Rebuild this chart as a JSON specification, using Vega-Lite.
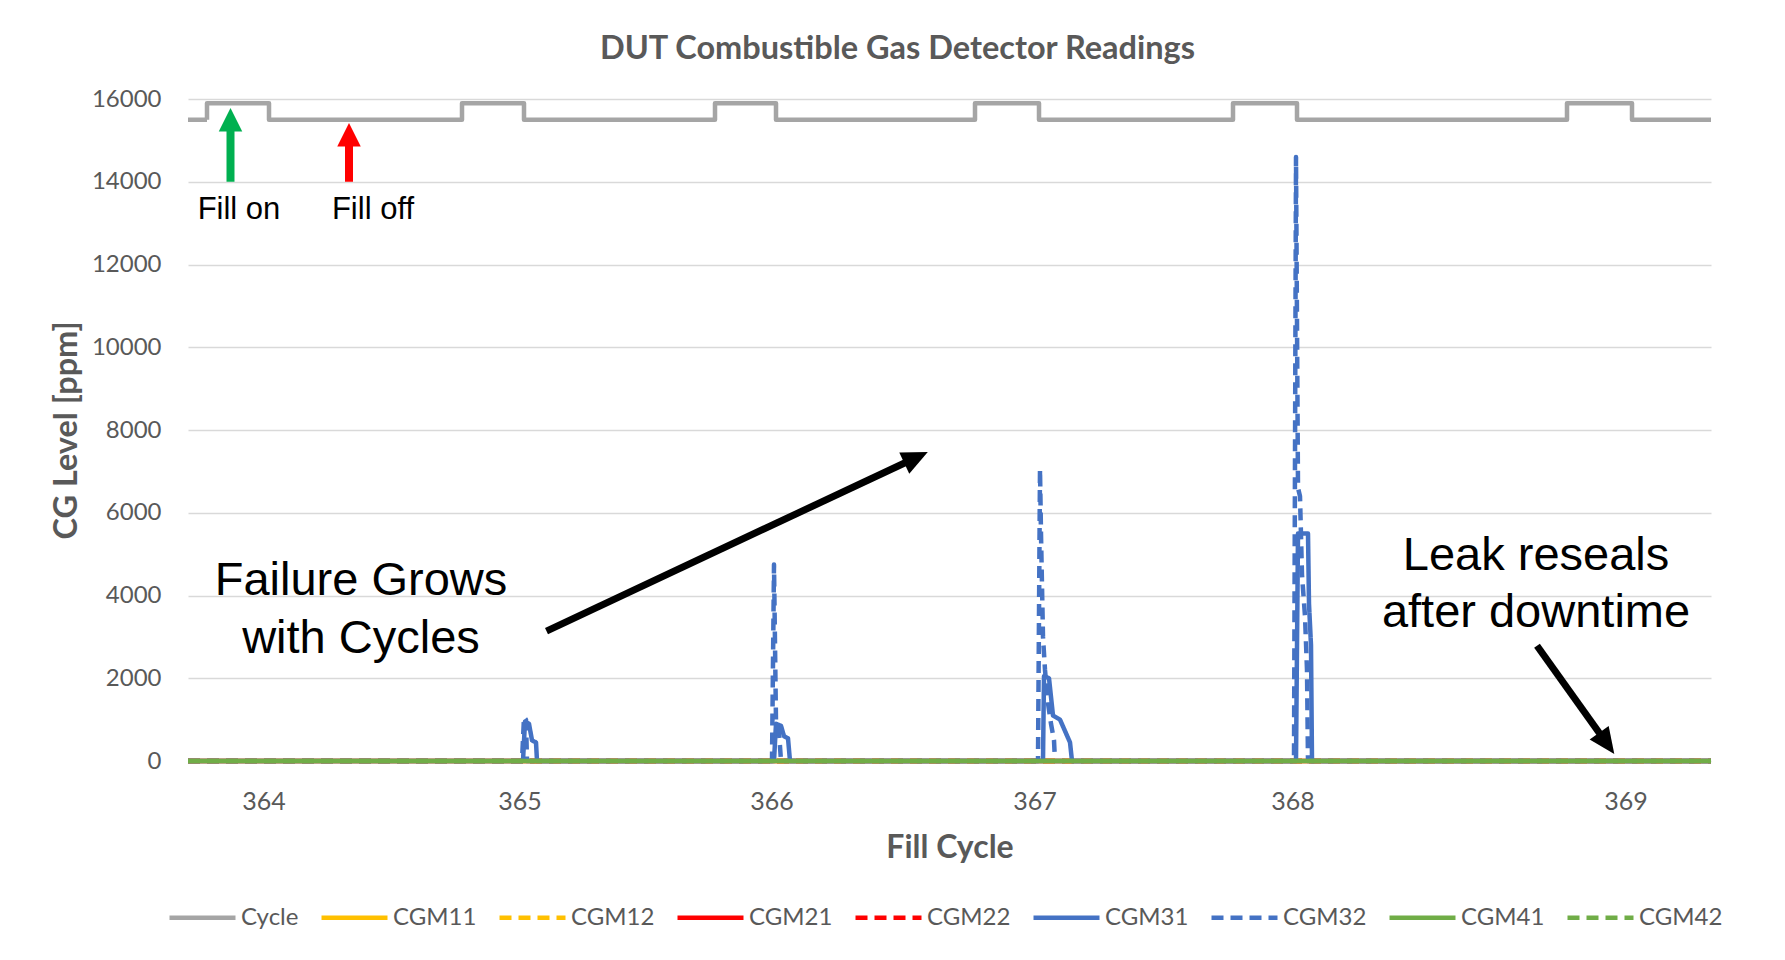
{
  "$schema": "https://vega.github.io/schema/vega-lite/v6.json",
  "width": 1523,
  "height": 662,
  "autosize": "none",
  "padding": {"left": 188, "top": 99, "right": 74, "bottom": 199},
  "background": "white",
  "title": {"text": "DUT Combustible Gas Detector Readings", "font": "Lato", "fontSize": 32.5, "fontWeight": "bold", "color": "#595959", "anchor": "middle", "dx": -52, "offset": 22},
  "config": {
    "view": {"stroke": null},
    "axisX": {"labels": false, "ticks": false, "domain": false, "grid": false, "titleFont": "Lato", "titleFontSize": 32, "titleFontWeight": "bold", "titleColor": "#595959", "titlePadding": 71},
    "axisY": {"grid": true, "gridColor": "#D9D9D9", "gridWidth": 1.5, "domain": false, "ticks": false, "labelFont": "Lato", "labelFontSize": 24, "labelColor": "#595959", "labelPadding": 27, "titleFont": "Lato", "titleFontSize": 32.5, "titleFontWeight": "bold", "titleColor": "#595959", "titlePadding": 8}
  },
  "datasets": {
    "series": [
      {"series": "Cycle", "t": 0, "ppm": 15500}, {"series": "Cycle", "t": 19, "ppm": 15500}, {"series": "Cycle", "t": 19, "ppm": 15900}, {"series": "Cycle", "t": 81, "ppm": 15900}, {"series": "Cycle", "t": 81, "ppm": 15500},
      {"series": "Cycle", "t": 274, "ppm": 15500}, {"series": "Cycle", "t": 274, "ppm": 15900}, {"series": "Cycle", "t": 336, "ppm": 15900}, {"series": "Cycle", "t": 336, "ppm": 15500},
      {"series": "Cycle", "t": 527, "ppm": 15500}, {"series": "Cycle", "t": 527, "ppm": 15900}, {"series": "Cycle", "t": 588, "ppm": 15900}, {"series": "Cycle", "t": 588, "ppm": 15500},
      {"series": "Cycle", "t": 787, "ppm": 15500}, {"series": "Cycle", "t": 787, "ppm": 15900}, {"series": "Cycle", "t": 851, "ppm": 15900}, {"series": "Cycle", "t": 851, "ppm": 15500},
      {"series": "Cycle", "t": 1045, "ppm": 15500}, {"series": "Cycle", "t": 1045, "ppm": 15900}, {"series": "Cycle", "t": 1109, "ppm": 15900}, {"series": "Cycle", "t": 1109, "ppm": 15500},
      {"series": "Cycle", "t": 1379, "ppm": 15500}, {"series": "Cycle", "t": 1379, "ppm": 15900}, {"series": "Cycle", "t": 1444, "ppm": 15900}, {"series": "Cycle", "t": 1444, "ppm": 15500},
      {"series": "Cycle", "t": 1523, "ppm": 15500},
      {"series": "CGM11", "t": 0, "ppm": 0}, {"series": "CGM11", "t": 1523, "ppm": 0},
      {"series": "CGM12", "t": 0, "ppm": 0}, {"series": "CGM12", "t": 1523, "ppm": 0},
      {"series": "CGM21", "t": 0, "ppm": 0}, {"series": "CGM21", "t": 1523, "ppm": 0},
      {"series": "CGM22", "t": 0, "ppm": 0}, {"series": "CGM22", "t": 1523, "ppm": 0},
      {"series": "CGM31", "t": 0, "ppm": 0}, {"series": "CGM31", "t": 335, "ppm": 0}, {"series": "CGM31", "t": 337, "ppm": 950}, {"series": "CGM31", "t": 341, "ppm": 900}, {"series": "CGM31", "t": 344, "ppm": 500}, {"series": "CGM31", "t": 348, "ppm": 450}, {"series": "CGM31", "t": 349, "ppm": 0},
      {"series": "CGM31", "t": 586, "ppm": 0}, {"series": "CGM31", "t": 588, "ppm": 900}, {"series": "CGM31", "t": 593, "ppm": 850}, {"series": "CGM31", "t": 596, "ppm": 600}, {"series": "CGM31", "t": 600, "ppm": 550}, {"series": "CGM31", "t": 602, "ppm": 0},
      {"series": "CGM31", "t": 855, "ppm": 0}, {"series": "CGM31", "t": 856, "ppm": 2050}, {"series": "CGM31", "t": 861, "ppm": 2000}, {"series": "CGM31", "t": 865, "ppm": 1100}, {"series": "CGM31", "t": 872, "ppm": 1000}, {"series": "CGM31", "t": 882, "ppm": 450}, {"series": "CGM31", "t": 884, "ppm": 0},
      {"series": "CGM31", "t": 1108, "ppm": 0}, {"series": "CGM31", "t": 1110, "ppm": 5500}, {"series": "CGM31", "t": 1120, "ppm": 5500}, {"series": "CGM31", "t": 1121, "ppm": 3800}, {"series": "CGM31", "t": 1123, "ppm": 2800}, {"series": "CGM31", "t": 1124, "ppm": 0},
      {"series": "CGM31", "t": 1523, "ppm": 0},
      {"series": "CGM32", "t": 0, "ppm": 0}, {"series": "CGM32", "t": 334, "ppm": 0}, {"series": "CGM32", "t": 336, "ppm": 1060}, {"series": "CGM32", "t": 338, "ppm": 1000}, {"series": "CGM32", "t": 339, "ppm": 0},
      {"series": "CGM32", "t": 584, "ppm": 0}, {"series": "CGM32", "t": 586, "ppm": 4750}, {"series": "CGM32", "t": 588, "ppm": 950}, {"series": "CGM32", "t": 591, "ppm": 700}, {"series": "CGM32", "t": 593, "ppm": 0},
      {"series": "CGM32", "t": 850, "ppm": 0}, {"series": "CGM32", "t": 852, "ppm": 7050}, {"series": "CGM32", "t": 853, "ppm": 5500}, {"series": "CGM32", "t": 855, "ppm": 3000}, {"series": "CGM32", "t": 857, "ppm": 2200}, {"series": "CGM32", "t": 860, "ppm": 1400}, {"series": "CGM32", "t": 863, "ppm": 900}, {"series": "CGM32", "t": 866, "ppm": 500}, {"series": "CGM32", "t": 867, "ppm": 0},
      {"series": "CGM32", "t": 1106, "ppm": 0}, {"series": "CGM32", "t": 1108, "ppm": 14600}, {"series": "CGM32", "t": 1110, "ppm": 6600}, {"series": "CGM32", "t": 1112, "ppm": 6400}, {"series": "CGM32", "t": 1114, "ppm": 4500}, {"series": "CGM32", "t": 1117, "ppm": 3500}, {"series": "CGM32", "t": 1119, "ppm": 2200}, {"series": "CGM32", "t": 1120, "ppm": 0},
      {"series": "CGM32", "t": 1523, "ppm": 0},
      {"series": "CGM41", "t": 0, "ppm": 0}, {"series": "CGM41", "t": 1523, "ppm": 0},
      {"series": "CGM42", "t": 0, "ppm": 0}, {"series": "CGM42", "t": 1523, "ppm": 0}
    ],
    "ticks": [
      {"t": 76, "label": "364"}, {"t": 332, "label": "365"}, {"t": 584, "label": "366"}, {"t": 847, "label": "367"}, {"t": 1105, "label": "368"}, {"t": 1438, "label": "369"}
    ],
    "smallNotes": [
      {"t": 51, "ppm": 13307, "text": "Fill on"}, {"t": 185, "ppm": 13307, "text": "Fill off"}
    ],
    "bigNotes": [
      {"t": 173, "ppm": 4357, "text": "Failure Grows"}, {"t": 173, "ppm": 2954, "text": "with Cycles"},
      {"t": 1348, "ppm": 4964, "text": "Leak reseals"}, {"t": 1348, "ppm": 3585, "text": "after downtime"}
    ],
    "shafts": [
      {"name": "fillOn", "t": 42.5, "ppm": 14000, "t2": 42.5, "ppm2": 15300},
      {"name": "fillOff", "t": 161, "ppm": 14000, "t2": 161, "ppm2": 14950},
      {"name": "grows", "t": 358.5, "ppm": 3140, "t2": 723.5, "ppm2": 7281},
      {"name": "reseals", "t": 1349, "ppm": 2787, "t2": 1415.8, "ppm2": 525}
    ],
    "heads": [
      {"name": "fillOn", "t": 42.5, "ppm": 15782},
      {"name": "fillOff", "t": 161, "ppm": 15419},
      {"name": "grows", "t": 739.8, "ppm": 7468},
      {"name": "reseals", "t": 1426.3, "ppm": 172}
    ]
  },
  "layer": [
    {
      "data": {"name": "series"},
      "mark": {"type": "line", "strokeWidth": 4.5, "strokeJoin": "round"},
      "encoding": {
        "x": {"field": "t", "type": "quantitative", "title": "Fill Cycle", "scale": {"domain": [0, 1523], "nice": false, "zero": false}},
        "y": {"field": "ppm", "type": "quantitative", "title": "CG Level [ppm]", "scale": {"domain": [0, 16000], "nice": false},
              "axis": {"values": [0, 2000, 4000, 6000, 8000, 10000, 12000, 14000, 16000], "format": "d"}},
        "color": {"field": "series", "type": "nominal", "title": null,
                  "scale": {"domain": ["Cycle", "CGM11", "CGM12", "CGM21", "CGM22", "CGM31", "CGM32", "CGM41", "CGM42"],
                            "range": ["#A5A5A5", "#FFC000", "#FFC000", "#FF0000", "#FF0000", "#4472C4", "#4472C4", "#70AD47", "#70AD47"]},
                  "legend": {"orient": "none", "legendX": -21, "legendY": 783, "direction": "horizontal", "symbolType": "stroke", "symbolSize": 4356, "symbolStrokeWidth": 4.5, "labelFont": "Lato", "labelFontSize": 24, "labelColor": "#595959", "labelOffset": 3, "columnPadding": 13}},
        "strokeDash": {"field": "series", "type": "nominal", "title": null,
                  "scale": {"domain": ["Cycle", "CGM11", "CGM12", "CGM21", "CGM22", "CGM31", "CGM32", "CGM41", "CGM42"],
                            "range": [[1, 0], [1, 0], [12, 7], [1, 0], [12, 7], [1, 0], [12, 7], [1, 0], [12, 7]]},
                  "legend": {"orient": "none", "legendX": -21, "legendY": 783, "direction": "horizontal", "symbolType": "stroke", "symbolSize": 4356, "symbolStrokeWidth": 4.5, "labelFont": "Lato", "labelFontSize": 24, "labelColor": "#595959", "labelOffset": 3, "columnPadding": 13}},
        "order": {"value": null}
      }
    },
    {
      "data": {"name": "ticks"},
      "mark": {"type": "text", "font": "Lato", "fontSize": 25, "color": "#595959", "baseline": "middle", "align": "center", "dy": 41},
      "encoding": {
        "x": {"field": "t", "type": "quantitative", "title": "Fill Cycle", "scale": {"domain": [0, 1523], "nice": false, "zero": false}},
        "y": {"datum": 0, "type": "quantitative", "title": "CG Level [ppm]", "scale": {"domain": [0, 16000], "nice": false}},
        "text": {"field": "label"}
      }
    },
    {
      "data": {"name": "smallNotes"},
      "mark": {"type": "text", "font": "Liberation Sans", "fontSize": 31, "color": "black", "baseline": "middle", "align": "center"},
      "encoding": {
        "x": {"field": "t", "type": "quantitative", "title": "Fill Cycle", "scale": {"domain": [0, 1523], "nice": false, "zero": false}},
        "y": {"field": "ppm", "type": "quantitative", "title": "CG Level [ppm]", "scale": {"domain": [0, 16000], "nice": false}},
        "text": {"field": "text"}
      }
    },
    {
      "data": {"name": "bigNotes"},
      "mark": {"type": "text", "font": "Liberation Sans", "fontSize": 47, "color": "black", "baseline": "middle", "align": "center"},
      "encoding": {
        "x": {"field": "t", "type": "quantitative", "title": "Fill Cycle", "scale": {"domain": [0, 1523], "nice": false, "zero": false}},
        "y": {"field": "ppm", "type": "quantitative", "title": "CG Level [ppm]", "scale": {"domain": [0, 16000], "nice": false}},
        "text": {"field": "text"}
      }
    },
    {
      "data": {"name": "shafts"},
      "transform": [{"filter": "datum.name === 'fillOn'"}],
      "mark": {"type": "rule", "strokeWidth": 8, "color": "#00B050"},
      "encoding": {
        "x": {"field": "t", "type": "quantitative", "title": "Fill Cycle", "scale": {"domain": [0, 1523], "nice": false, "zero": false}},
        "y": {"field": "ppm", "type": "quantitative", "title": "CG Level [ppm]", "scale": {"domain": [0, 16000], "nice": false}},
        "x2": {"field": "t2"}, "y2": {"field": "ppm2"}
      }
    },
    {
      "data": {"name": "shafts"},
      "transform": [{"filter": "datum.name === 'fillOff'"}],
      "mark": {"type": "rule", "strokeWidth": 8, "color": "#FF0000"},
      "encoding": {
        "x": {"field": "t", "type": "quantitative", "title": "Fill Cycle", "scale": {"domain": [0, 1523], "nice": false, "zero": false}},
        "y": {"field": "ppm", "type": "quantitative", "title": "CG Level [ppm]", "scale": {"domain": [0, 16000], "nice": false}},
        "x2": {"field": "t2"}, "y2": {"field": "ppm2"}
      }
    },
    {
      "data": {"name": "shafts"},
      "transform": [{"filter": "datum.name === 'grows' || datum.name === 'reseals'"}],
      "mark": {"type": "rule", "strokeWidth": 7, "color": "black"},
      "encoding": {
        "x": {"field": "t", "type": "quantitative", "title": "Fill Cycle", "scale": {"domain": [0, 1523], "nice": false, "zero": false}},
        "y": {"field": "ppm", "type": "quantitative", "title": "CG Level [ppm]", "scale": {"domain": [0, 16000], "nice": false}},
        "x2": {"field": "t2"}, "y2": {"field": "ppm2"}
      }
    },
    {
      "data": {"name": "heads"},
      "transform": [{"filter": "datum.name === 'fillOn'"}],
      "mark": {"type": "point", "shape": "M0,0L0.5,1L-0.5,1Z", "filled": true, "size": 2209, "color": "#00B050", "opacity": 1, "strokeWidth": 0, "angle": 0},
      "encoding": {
        "x": {"field": "t", "type": "quantitative", "title": "Fill Cycle", "scale": {"domain": [0, 1523], "nice": false, "zero": false}},
        "y": {"field": "ppm", "type": "quantitative", "title": "CG Level [ppm]", "scale": {"domain": [0, 16000], "nice": false}}
      }
    },
    {
      "data": {"name": "heads"},
      "transform": [{"filter": "datum.name === 'fillOff'"}],
      "mark": {"type": "point", "shape": "M0,0L0.5,1L-0.5,1Z", "filled": true, "size": 2209, "color": "#FF0000", "opacity": 1, "strokeWidth": 0, "angle": 0},
      "encoding": {
        "x": {"field": "t", "type": "quantitative", "title": "Fill Cycle", "scale": {"domain": [0, 1523], "nice": false, "zero": false}},
        "y": {"field": "ppm", "type": "quantitative", "title": "CG Level [ppm]", "scale": {"domain": [0, 16000], "nice": false}}
      }
    },
    {
      "data": {"name": "heads"},
      "transform": [{"filter": "datum.name === 'grows'"}],
      "mark": {"type": "point", "shape": "M0,0L0.45,1L-0.45,1Z", "filled": true, "size": 2704, "color": "black", "opacity": 1, "strokeWidth": 0, "angle": 64.8},
      "encoding": {
        "x": {"field": "t", "type": "quantitative", "title": "Fill Cycle", "scale": {"domain": [0, 1523], "nice": false, "zero": false}},
        "y": {"field": "ppm", "type": "quantitative", "title": "CG Level [ppm]", "scale": {"domain": [0, 16000], "nice": false}}
      }
    },
    {
      "data": {"name": "heads"},
      "transform": [{"filter": "datum.name === 'reseals'"}],
      "mark": {"type": "point", "shape": "M0,0L0.45,1L-0.45,1Z", "filled": true, "size": 2704, "color": "black", "opacity": 1, "strokeWidth": 0, "angle": 144.4},
      "encoding": {
        "x": {"field": "t", "type": "quantitative", "title": "Fill Cycle", "scale": {"domain": [0, 1523], "nice": false, "zero": false}},
        "y": {"field": "ppm", "type": "quantitative", "title": "CG Level [ppm]", "scale": {"domain": [0, 16000], "nice": false}}
      }
    }
  ]
}
